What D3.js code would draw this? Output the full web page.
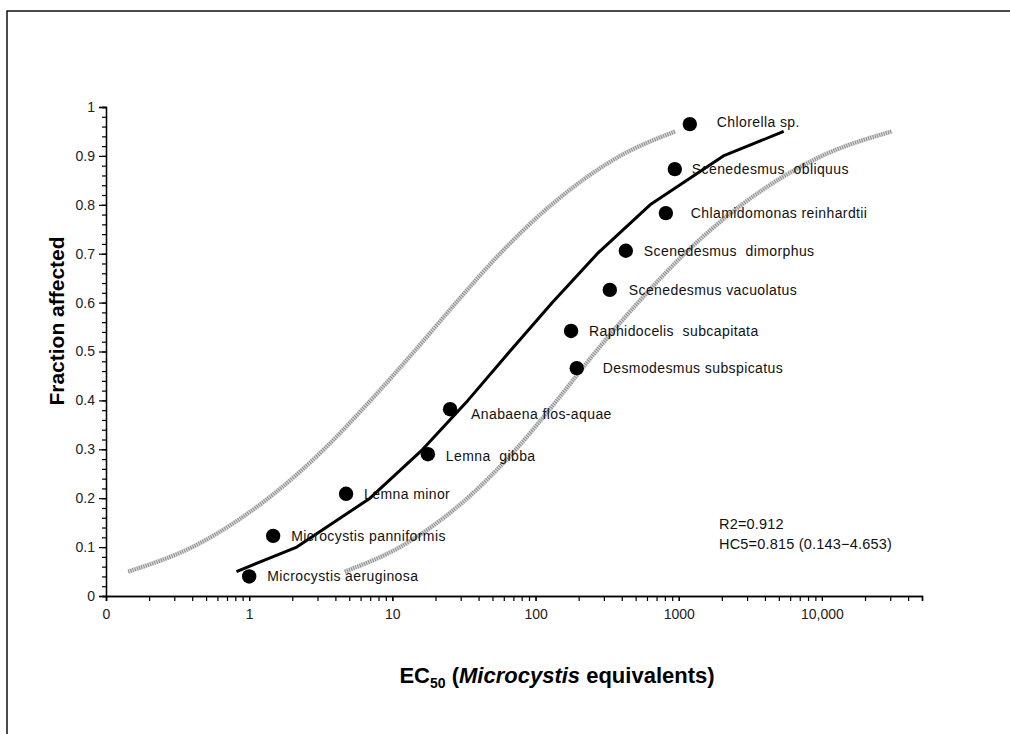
<!DOCTYPE html>
<html>
<head>
<meta charset="utf-8">
<script src="https://cdn.jsdelivr.net/npm/d3@7"></script>
<style>
  html, body { margin: 0; padding: 0; background: #fff; }
  svg { display: block; font-family: "Liberation Sans", Arial, sans-serif; }
</style>
</head>
<body>
<svg id="chart" width="1010" height="734"></svg>
<script>
// ---- Data ----
const species = [
  "Microcystis aeruginosa", "Microcystis panniformis", "Lemna minor", "Lemna  gibba",
  "Anabaena flos-aquae", "Raphidocelis  subcapitata", "Desmodesmus subspicatus",
  "Scenedesmus vacuolatus", "Scenedesmus  dimorphus", "Chlamidomonas reinhardtii",
  "Scenedesmus  obliquus", "Chlorella sp."
];
const ec50 = [1.0, 1.47, 4.75, 17.7, 25.3, 177, 194, 330, 427, 813, 939, 1195];
const fraction = [0.04, 0.123, 0.209, 0.29, 0.382, 0.542, 0.466, 0.626, 0.706, 0.783, 0.873, 0.965];

const fitFraction = [0.05, 0.1, 0.2, 0.3, 0.4, 0.5, 0.6, 0.7, 0.8, 0.9, 0.95];
const fitEC = [0.815, 2.15, 6.98, 16.3, 33.7, 66, 131, 270, 631, 2050, 5410];
const lowerEC = [0.143, 0.401, 1.36, 3.33, 7.05, 14.2, 27.9, 56.4, 129, 390, 948];
const upperEC = [4.653, 11.3, 33.4, 73, 141, 264, 520, 1100, 2750, 10000, 30800];

const xTickValues = [0.1, 1, 10, 100, 1000, 10000];
const xTickLabels = ["0", "1", "10", "100", "1000", "10,000"];
const yTickValues = [0, 0.1, 0.2, 0.3, 0.4, 0.5, 0.6, 0.7, 0.8, 0.9, 1];
const yTickLabels = ["0", "0.1", "0.2", "0.3", "0.4", "0.5", "0.6", "0.7", "0.8", "0.9", "1"];
const statLines = ["R2=0.912", "HC5=0.815 (0.143\u22124.653)"];

// ---- Layout (label nudges, px) ----
const labelDx = [18, 18, 18, 18, 21, 18, 26, 19, 18, 25, 17, 27];
const labelDy = [0, 0, 0, 2, 5, 0, 0, 0, 0, 0, 0, -2];

const svg = d3.select("#chart");

// outer frame
svg.append("path")
  .attr("d", "M7,740 L7,11 L1015,11")
  .attr("fill", "none").attr("stroke", "#111").attr("stroke-width", 1.5);

const x = d3.scaleLog().domain([0.1, 50000]).range([106, 922]);
const y = d3.scaleLinear().domain([0, 1]).range([596, 107]);

// minor ticks
const xMinor = [];
for (let e = -1; e <= 4; e++) {
  for (let m = 1; m <= 9; m++) {
    const v = m * Math.pow(10, e);
    if (v <= 50000) xMinor.push(v);
  }
}
const yMinor = d3.range(0, 51).map(i => i / 50);

const gx = svg.append("g").attr("transform", "translate(0,596)");
gx.call(d3.axisBottom(x).tickValues(xMinor).tickSize(5).tickFormat(""));
gx.append("g").call(d3.axisBottom(x).tickValues(xTickValues).tickSize(5).tickPadding(8)
  .tickFormat((d, i) => xTickLabels[i]));
gx.selectAll(".domain").attr("stroke", "#000").attr("stroke-width", 1.3);
gx.selectAll(".tick line").attr("stroke", "#000").attr("stroke-width", 1.2);
gx.selectAll("text").attr("font-size", 14).attr("fill", "#222")
  .attr("font-family", "Liberation Sans, Arial, sans-serif");

const gy = svg.append("g").attr("transform", "translate(106,0)");
gy.call(d3.axisLeft(y).tickValues(yMinor).tickSize(4).tickFormat(""));
gy.append("g").call(d3.axisLeft(y).tickValues(yTickValues).tickSize(7).tickPadding(4)
  .tickFormat((d, i) => yTickLabels[i]));
gy.selectAll(".domain").attr("stroke", "#000").attr("stroke-width", 1.3);
gy.selectAll(".tick line").attr("stroke", "#000").attr("stroke-width", 1.2);
gy.selectAll("text").attr("font-size", 14).attr("fill", "#222")
  .attr("font-family", "Liberation Sans, Arial, sans-serif");

// confidence bands
const bandLine = d3.line()
  .x(d => x(d[0])).y(d => y(d[1]))
  .curve(d3.curveMonotoneX);
[lowerEC, upperEC].forEach(arr => {
  const pts = arr.map((v, i) => [v, fitFraction[i]]);
  svg.append("path").attr("d", bandLine(pts))
    .attr("fill", "none").attr("stroke", "#dadada").attr("stroke-width", 4.5);
  svg.append("path").attr("d", bandLine(pts))
    .attr("fill", "none").attr("stroke", "#8c8c8c").attr("stroke-width", 4)
    .attr("stroke-dasharray", "1,1.3");
});

// fitted line
const fitLine = d3.line().x(d => x(d[0])).y(d => y(d[1]));
svg.append("path")
  .attr("d", fitLine(fitEC.map((v, i) => [v, fitFraction[i]])))
  .attr("fill", "none").attr("stroke", "#000").attr("stroke-width", 3)
  .attr("stroke-linejoin", "round");

// points
svg.append("g").selectAll("circle")
  .data(ec50)
  .join("circle")
  .attr("cx", d => x(d))
  .attr("cy", (d, i) => y(fraction[i]))
  .attr("r", 7.2)
  .attr("fill", "#000");

// labels
svg.append("g").selectAll("text")
  .data(species)
  .join("text")
  .attr("x", (d, i) => x(ec50[i]) + labelDx[i])
  .attr("y", (d, i) => y(fraction[i]) + labelDy[i] + 5)
  .attr("font-size", 14)
  .attr("letter-spacing", "0.4px")
  .attr("fill", "#111")
  .style("white-space", "pre")
  .text(d => d);

// stats text
svg.append("g").selectAll("text")
  .data(statLines)
  .join("text")
  .attr("x", 719)
  .attr("y", (d, i) => 529 + i * 20)
  .attr("font-size", 14.5)
  .attr("letter-spacing", "0.2px")
  .attr("fill", "#111")
  .text(d => d);

// axis titles
svg.append("text")
  .attr("transform", "translate(64,321) rotate(-90)")
  .attr("text-anchor", "middle")
  .attr("font-size", 21)
  .attr("font-weight", "bold")
  .text("Fraction affected");

const xt = svg.append("text")
  .attr("x", 557).attr("y", 683)
  .attr("text-anchor", "middle")
  .attr("font-size", 22)
  .attr("font-weight", "bold");
xt.append("tspan").text("EC");
xt.append("tspan").attr("font-size", 14).attr("dy", 5).text("50");
xt.append("tspan").attr("dy", -5).text(" (");
xt.append("tspan").attr("font-style", "italic").text("Microcystis");
xt.append("tspan").text(" equivalents)");
</script>
</body>
</html>
